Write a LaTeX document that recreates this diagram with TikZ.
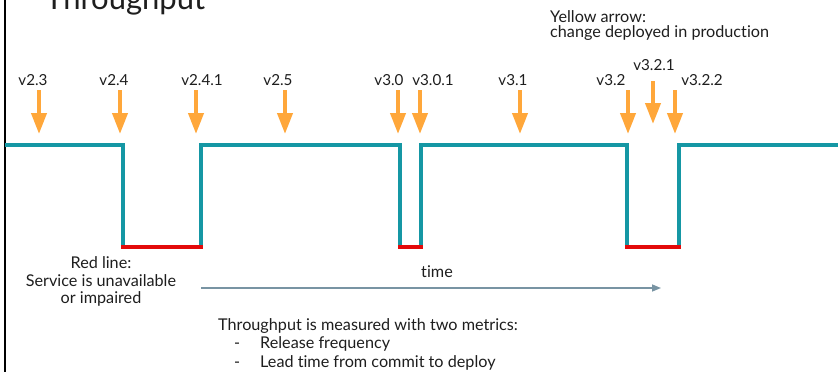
\documentclass[tikz,border=0pt]{standalone}
\usepackage{fontspec}
\setmainfont{Lato}[Ligatures=NoCommon]
\usetikzlibrary{arrows.meta}
\definecolor{teal}{HTML}{1597A4}
\definecolor{outage}{HTML}{E30A0A}
\definecolor{deploy}{HTML}{FFA73A}
\definecolor{timeaxis}{HTML}{7894A3}
\definecolor{ink}{HTML}{1E1E1E}
\tikzset{
  uptime/.style={draw=teal, line width=4pt, line join=miter},
  down/.style={draw=outage, line width=4pt},
  release/.style={draw=deploy, line width=4pt, -{Triangle[length=21pt,width=15pt]}},
  vlabel/.style={text=ink, font=\fontsize{15.2}{17}\selectfont, anchor=base, inner sep=0pt},
  note/.style={text=ink, font=\fontsize{16.2}{17.5}\selectfont, inner sep=0pt},
}
\begin{document}
\begin{tikzpicture}[x=1pt,y=-1pt]
\useasboundingbox (0,0) rectangle (838,372);
\clip (0,0) rectangle (838,372);
\fill[white] (0,0) rectangle (838,372);

% left frame edge
\draw[black, line width=2pt] (5,0) -- (5,372);

% heading, partly above the top edge
\node[text=ink, font=\fontsize{31}{34}\selectfont, anchor=base west, inner sep=0pt] (title) at (45,9.5) {Throughput};

% legend for the arrows
\node[note, anchor=base west] (legend1) at (550,22) {Yellow arrow:};
\node[note, anchor=base west] (legend2) at (550,37.5) {change deployed in production};

% service level over time
\coordinate (s0) at (5,145);
\coordinate (d1a) at (123,145); \coordinate (d1b) at (123,247);
\coordinate (u1b) at (201,247); \coordinate (u1a) at (201,145);
\coordinate (d2a) at (400,145); \coordinate (d2b) at (400,247);
\coordinate (u2b) at (421,247); \coordinate (u2a) at (421,145);
\coordinate (d3a) at (627,145); \coordinate (d3b) at (627,247);
\coordinate (u3b) at (679,247); \coordinate (u3a) at (679,145);
\coordinate (s1) at (840,145);
\draw[uptime] (s0) -- (d1a) -- (d1b);
\draw[uptime] (u1b) -- (u1a) -- (d2a) -- (d2b);
\draw[uptime] (u2b) -- (u2a) -- (d3a) -- (d3b);
\draw[uptime] (u3b) -- (u3a) -- (s1);
\draw[down] ([xshift=-2pt]d1b) -- ([xshift=2pt]u1b);
\draw[down] ([xshift=-2pt]d2b) -- ([xshift=2pt]u2b);
\draw[down] ([xshift=-2pt]d3b) -- ([xshift=2pt]u3b);

% releases
\foreach \nm/\lx/\ax/\lab in {a/33/39/v2.3, b/114/120/v2.4, c/202/196/v2.4.1, d/278/285/v2.5,
  e/389/398/v3.0, f/433/420/v3.0.1, g/513/520/v3.1, h/611/628/v3.2, j/702/675/v3.2.2}{
  \node[vlabel] (l\nm) at (\lx,85) {\lab};
  \coordinate (t\nm) at (\ax,90);
  \coordinate (h\nm) at (\ax,134);
  \draw[release] (t\nm) -- (h\nm);
}
\node[vlabel] (li) at (654,70) {v3.2.1};
\coordinate (ti) at (653,81);
\coordinate (hi) at (653,124);
\draw[release] (ti) -- (hi);

% red line legend
\node[note, anchor=base] (red1) at (101,268) {Red line:};
\node[note, anchor=base] (red2) at (101,286) {Service is unavailable};
\node[note, anchor=base] (red3) at (101,303) {or impaired};

% time axis
\node[note, anchor=base] (time) at (437,277) {time};
\coordinate (ta) at (201,288);
\coordinate (tb) at (661,288);
\draw[timeaxis, line width=1.5pt, -{Triangle[length=9pt,width=7pt]}] (ta) -- (tb);

% metrics
\node[note, anchor=base west] (metrics) at (218,330) {Throughput is measured with two metrics:};
\node[note, anchor=base west] (dash1) at (234,348) {-};
\node[note, anchor=base west] (m1) at (260,348) {Release frequency};
\node[note, anchor=base west] (dash2) at (234,367) {-};
\node[note, anchor=base west] (m2) at (260,367) {Lead time from commit to deploy};
\end{tikzpicture}
\end{document}
